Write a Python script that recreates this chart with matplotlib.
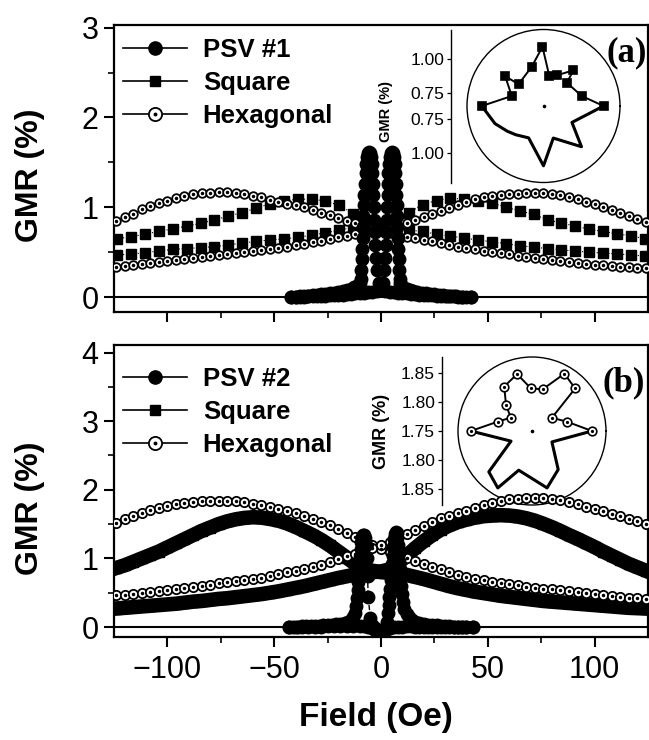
import numpy as np
import matplotlib
matplotlib.use('Agg')
import matplotlib.pyplot as plt
from matplotlib.lines import Line2D
from matplotlib.legend_handler import HandlerTuple

plt.rcParams['font.family'] = ['Liberation Sans', 'DejaVu Sans']

# ---------------- data ----------------
# field grid of the hexagonal / (b) square sweeps (Oe)
field_4 = [-124, -120, -116, -112, -108, -104, -100, -96, -92, -88, -84, -80, -76, -72, -68, -64,
           -60, -56, -52, -48, -44, -40, -36, -32, -28, -24, -20, -16, -12, -8, -4, 0,
           4, 8, 12, 16, 20, 24, 28, 32, 36, 40, 44, 48, 52, 56, 60, 64,
           68, 72, 76, 80, 84, 88, 92, 96, 100, 104, 108, 112, 116, 120, 124]
# field grid of the (a) square sweeps
field_sq = [-123.5, -117, -110.5, -104, -97.5, -91, -84.5, -78, -71.5, -65, -58.5, -52, -45.5,
            -39, -32.5, -26, -19.5, -13, -6.5, 0, 6.5, 13, 19.5, 26, 32.5, 39,
            45.5, 52, 58.5, 65, 71.5, 78, 84.5, 91, 97.5, 104, 110.5, 117, 123.5]

# panel (a)
hex_a_down = [0.85, 0.89, 0.93, 0.975, 1.01, 1.045, 1.075, 1.10, 1.125, 1.142, 1.155, 1.163, 1.167, 1.166, 1.16, 1.147,
              1.13, 1.11, 1.085, 1.06, 1.04, 1.02, 1.0, 0.97, 0.94, 0.91, 0.88, 0.85, 0.82, 0.79, 0.76, 0.735,
              0.71, 0.69, 0.67, 0.655, 0.64, 0.62, 0.60, 0.58, 0.56, 0.545, 0.53, 0.515, 0.50, 0.49, 0.475, 0.46,
              0.45, 0.44, 0.425, 0.415, 0.40, 0.39, 0.38, 0.37, 0.36, 0.355, 0.345, 0.335, 0.33, 0.325, 0.32]
hex_a_up = [0.335, 0.345, 0.355, 0.37, 0.38, 0.39, 0.405, 0.415, 0.425, 0.435, 0.445, 0.455, 0.465, 0.475, 0.49, 0.50,
            0.51, 0.525, 0.535, 0.545, 0.56, 0.58, 0.595, 0.61, 0.625, 0.645, 0.665, 0.685, 0.705, 0.72, 0.73, 0.74,
            0.76, 0.79, 0.82, 0.855, 0.89, 0.92, 0.955, 0.99, 1.02, 1.055, 1.09, 1.11, 1.125, 1.137, 1.147, 1.153,
            1.156, 1.157, 1.155, 1.147, 1.133, 1.115, 1.09, 1.063, 1.035, 1.005, 0.97, 0.94, 0.905, 0.87, 0.835]
sq_a_down = [0.65, 0.67, 0.70, 0.73, 0.76, 0.79, 0.82, 0.86, 0.90, 0.94, 0.99, 1.04, 1.07,
             1.09, 1.09, 1.07, 1.02, 0.93, 0.84, 0.79, 0.76, 0.745, 0.73, 0.70, 0.68, 0.655,
             0.635, 0.615, 0.595, 0.57, 0.555, 0.54, 0.525, 0.51, 0.50, 0.49, 0.48, 0.468, 0.457]
sq_a_up = [0.468, 0.478, 0.494, 0.513, 0.53, 0.54, 0.55, 0.56, 0.58, 0.60, 0.62, 0.635, 0.647,
           0.665, 0.688, 0.715, 0.745, 0.775, 0.79, 0.80, 0.85, 0.94, 1.03, 1.075, 1.10, 1.09,
           1.07, 1.05, 1.00, 0.96, 0.92, 0.86, 0.825, 0.79, 0.755, 0.73, 0.705, 0.68, 0.65]
psv1_field_down = [-42, -40, -38, -36, -34, -32, -30, -28, -26, -24, -22, -20, -18, -16, -14, -12.5, -11, -10,
                   -9.5, -9.2, -9, -8.8, -8.6, -8.4, -8.2, -8, -7.8, -7.5, -7.2, -7, -6.5, -6, -5.5, -5,
                   -4.5, -4.2, -4, -3.8, -3.6, -3.4, -3.2, -3, -2.7, -2.3, -2, -1, 0, 1, 2, 4, 6, 8,
                   10, 12, 14, 16, 18, 20, 22, 24, 26, 28, 30, 32, 34, 36, 38, 40, 42]
psv1_down = [0.0, 0.005, 0.008, 0.012, 0.016, 0.02, 0.025, 0.03, 0.035, 0.04, 0.047, 0.055, 0.065, 0.075, 0.09, 0.11, 0.13, 0.16,
             0.2, 0.3, 0.42, 0.54, 0.66, 0.78, 0.9, 1.02, 1.14, 1.26, 1.38, 1.48, 1.56, 1.6, 1.61, 1.6,
             1.56, 1.48, 1.38, 1.26, 1.14, 1.0, 0.86, 0.72, 0.58, 0.44, 0.3, 0.16, 0.1, 0.08, 0.07, 0.06, 0.055, 0.05,
             0.045, 0.04, 0.035, 0.03, 0.027, 0.024, 0.021, 0.018, 0.015, 0.012, 0.01, 0.008, 0.006, 0.004, 0.002, 0.0, 0.0]
psv1_field_up = [-42, -40, -38, -36, -34, -32, -30, -28, -26, -24, -22, -20, -18, -16, -14, -12, -10, -8,
                 -6, -4, -2, -1, 0, 1, 1.5, 1.8, 2.2, 2.5, 2.7, 2.9, 3.1, 3.3, 3.5, 3.7,
                 4, 4.5, 5, 5.5, 6, 6.5, 6.7, 6.9, 7.1, 7.3, 7.5, 7.7, 7.9, 8.1, 8.3, 8.5, 8.7, 9,
                 9.5, 10.5, 12, 13.5, 15, 17, 19, 21, 23, 25, 27, 29, 31, 33, 35, 38, 42]
psv1_up = [0.0, 0.0, 0.002, 0.004, 0.006, 0.008, 0.01, 0.012, 0.015, 0.018, 0.021, 0.024, 0.027, 0.03, 0.035, 0.04, 0.045, 0.05,
           0.055, 0.06, 0.07, 0.08, 0.1, 0.16, 0.3, 0.44, 0.58, 0.72, 0.86, 1.0, 1.14, 1.26, 1.38, 1.48,
           1.56, 1.6, 1.61, 1.6, 1.56, 1.48, 1.38, 1.26, 1.14, 1.02, 0.9, 0.78, 0.66, 0.54, 0.42, 0.3, 0.2, 0.16,
           0.13, 0.11, 0.09, 0.075, 0.065, 0.055, 0.047, 0.04, 0.035, 0.03, 0.025, 0.02, 0.016, 0.012, 0.008, 0.005, 0.0]

# panel (b)
hex_b_down = [1.52, 1.575, 1.62, 1.665, 1.70, 1.735, 1.765, 1.79, 1.805, 1.82, 1.83, 1.838, 1.84, 1.838, 1.832, 1.82,
              1.80, 1.778, 1.75, 1.72, 1.69, 1.655, 1.62, 1.58, 1.535, 1.485, 1.43, 1.37, 1.31, 1.25, 1.19, 1.14,
              1.10, 1.06, 1.01, 0.965, 0.92, 0.88, 0.84, 0.80, 0.765, 0.735, 0.705, 0.68, 0.66, 0.645, 0.63, 0.61,
              0.59, 0.575, 0.56, 0.55, 0.535, 0.52, 0.505, 0.49, 0.475, 0.465, 0.45, 0.44, 0.43, 0.42, 0.41]
hex_b_up = [0.46, 0.47, 0.48, 0.49, 0.505, 0.52, 0.535, 0.55, 0.565, 0.585, 0.60, 0.62, 0.64, 0.655, 0.67, 0.685,
            0.70, 0.72, 0.745, 0.77, 0.795, 0.82, 0.845, 0.875, 0.91, 0.95, 0.99, 1.03, 1.07, 1.11, 1.15, 1.19,
            1.24, 1.295, 1.355, 1.41, 1.47, 1.53, 1.585, 1.625, 1.66, 1.69, 1.735, 1.775, 1.81, 1.84, 1.86, 1.872,
            1.877, 1.878, 1.877, 1.87, 1.85, 1.82, 1.79, 1.755, 1.72, 1.69, 1.65, 1.615, 1.58, 1.54, 1.50]
sq_b_down = [0.86, 0.90, 0.95, 1.00, 1.05, 1.10, 1.16, 1.22, 1.28, 1.34, 1.40, 1.45, 1.50, 1.54, 1.57, 1.59,
             1.60, 1.595, 1.575, 1.55, 1.51, 1.46, 1.40, 1.34, 1.27, 1.19, 1.10, 1.01, 0.92, 0.85, 0.82, 0.80,
             0.79, 0.78, 0.76, 0.73, 0.70, 0.665, 0.63, 0.595, 0.565, 0.54, 0.515, 0.495, 0.475, 0.455, 0.44, 0.425,
             0.41, 0.395, 0.38, 0.37, 0.36, 0.35, 0.34, 0.33, 0.32, 0.31, 0.30, 0.29, 0.28, 0.275, 0.27]
sq_b_up = [0.27, 0.28, 0.29, 0.30, 0.31, 0.32, 0.33, 0.34, 0.355, 0.37, 0.38, 0.395, 0.41, 0.42, 0.435, 0.45,
           0.465, 0.48, 0.50, 0.52, 0.545, 0.57, 0.595, 0.625, 0.655, 0.685, 0.715, 0.74, 0.765, 0.78, 0.80, 0.81,
           0.84, 0.93, 1.04, 1.15, 1.25, 1.34, 1.42, 1.48, 1.53, 1.565, 1.595, 1.615, 1.625, 1.63, 1.625, 1.61,
           1.585, 1.55, 1.505, 1.455, 1.40, 1.34, 1.285, 1.225, 1.165, 1.10, 1.04, 0.98, 0.92, 0.87, 0.82]
psv2_field_down = [-43, -41, -39, -37, -35, -33, -31, -29, -27, -25, -23, -21, -19, -17, -15.5, -14, -13,
                   -12.2, -11.8, -11.4, -11, -10.7, -10.4, -10.1, -9.8, -9.5, -9.2, -8.8, -8.3, -7.8, -7.3, -6.9,
                   -6.6, -6.3, -6, -5, -4, -3, -2, -1, 0, 1, 2, 3, 4, 6, 8, 10, 12, 14, 16, 18, 20,
                   22, 24, 26, 28, 30, 32, 34, 36, 38, 40, 43]
psv2_down = [0.0, 0.003, 0.006, 0.009, 0.012, 0.015, 0.018, 0.021, 0.025, 0.03, 0.035, 0.04, 0.05, 0.06, 0.075, 0.1, 0.14,
             0.2, 0.3, 0.42, 0.54, 0.66, 0.78, 0.9, 1.02, 1.14, 1.24, 1.31, 1.34, 1.34, 1.3, 1.2,
             1.0, 0.75, 0.44, 0.13, 0.03, -0.02, -0.05, -0.07, -0.08, -0.07, -0.05, -0.03, -0.015, 0.0, 0.005, 0.008, 0.01, 0.01, 0.008, 0.006, 0.005,
             0.004, 0.003, 0.002, 0.001, 0.0, 0.0, 0.0, 0.0, 0.0, 0.0, 0.0]
psv2_field_up = [-43, -40, -37, -34, -31, -28, -25, -22, -19, -16, -13, -10, -8, -6, -4, -3, -2, -1, 0, 1, 2,
                 2.5, 3, 3.3, 3.6, 3.9, 4.2, 4.5, 4.8, 5.1, 5.4, 5.8, 6.2, 6.6, 7, 7.3, 7.6, 7.9, 8.2, 8.5,
                 8.8, 9.1, 9.4, 9.8, 10.3, 11, 12, 13, 14.5, 16, 18, 20, 22, 24, 26, 28, 30, 32, 34, 36, 38, 40, 43]
psv2_up = [0.0, 0.0, 0.002, 0.004, 0.006, 0.008, 0.01, 0.012, 0.014, 0.016, 0.018, 0.015, 0.01, 0.0, -0.02, -0.04, -0.06, -0.075, -0.085, -0.075, -0.04,
           0.0, 0.08, 0.2, 0.32, 0.44, 0.56, 0.68, 0.8, 0.92, 1.04, 1.16, 1.28, 1.36, 1.39, 1.37, 1.3, 1.2, 1.08, 0.96,
           0.84, 0.72, 0.6, 0.48, 0.36, 0.26, 0.19, 0.14, 0.105, 0.08, 0.06, 0.047, 0.037, 0.03, 0.024, 0.019, 0.015, 0.011, 0.008, 0.005, 0.003, 0.001, 0.0]

# polar insets: angle (deg) and GMR (%)
ins_a_theta_mk = [180, 162.5, 142, 139, 106.6, 91, 79, 66.6, 50, 45, 14.6, 0]
ins_a_r_mk = [1.104, 0.896, 1.009, 0.895, 0.953, 1.086, 0.876, 0.897, 0.994, 0.894, 0.942, 1.092]
ins_a_theta_ln = [180, 200, 215, 226, 245, 270, 287, 313, 330, 360]
ins_a_r_ln = [1.104, 1.03, 0.975, 0.945, 0.91, 1.09, 0.898, 1.06, 0.893, 1.092]
ins_a_rlim = (0.653, 1.212)
ins_a_ticks = [0.75, 1.00]

ins_b_theta_mk = [180, 164.8, 147.7, 135, 122, 104.7, 91.3, 75.6, 60.5, 44.6, 33.6, 15, 0]
ins_b_r_mk = [1.855, 1.811, 1.793, 1.813, 1.840, 1.851, 1.823, 1.824, 1.863, 1.854, 1.791, 1.812, 1.853]
ins_b_theta_ln = [180, 205.8, 223.4, 239, 251.3, 284.8, 304.2, 331.2, 360]
ins_b_r_ln = [1.855, 1.790, 1.852, 1.864, 1.821, 1.851, 1.830, 1.789, 1.853]
ins_b_rlim = (1.75, 1.877)
ins_b_ticks = [1.75, 1.80, 1.85]

# ---------------- figure ----------------
W, H = 649, 740
fig = plt.figure(figsize=(W / 100, H / 100), dpi=100)


def px_box(l, t, r, b):
    return [l / W, 1 - b / H, (r - l) / W, (b - t) / H]


ax_a = fig.add_axes(px_box(114, 25, 648, 312))
ax_b = fig.add_axes(px_box(114, 345, 648, 637))


def style_main(ax, ylim, major, minor, show_x):
    ax.set_xlim(-125, 125)
    ax.set_ylim(*ylim)
    ax.set_yticks(major)
    ax.set_yticks(minor, minor=True)
    ax.set_xticks([-100, -50, 0, 50, 100])
    ax.set_xticks([-75, -25, 25, 75], minor=True)
    ax.tick_params(which='major', direction='out', length=7, width=1.5, labelsize=22, pad=4)
    ax.tick_params(which='minor', direction='out', length=4, width=1.2)
    ax.tick_params(axis='x', pad=6)
    if not show_x:
        ax.tick_params(axis='x', labelbottom=False)
    for s in ax.spines.values():
        s.set_linewidth(1.6)
    ax.axhline(0, color='k', lw=1.5, zorder=1)
    ax.patch.set_visible(False)
    ax.set_zorder(3)


style_main(ax_a, (-0.167, 3.03), [0, 1, 2, 3], [0.5, 1.5, 2.5], False)
style_main(ax_b, (-0.145, 4.11), [0, 1, 2, 3, 4], [0.5, 1.5, 2.5, 3.5], True)


def plot_hex(ax, x, y, ms):
    ax.plot(x, y, '-', color='k', lw=0.7, marker='o', ms=ms, mfc='white', mec='k', mew=1.3, zorder=3)
    ax.plot(x, y, 'o', ms=1.5, color='k', zorder=4)


# panel (a)
ax_a.plot(field_sq, sq_a_down, ':', color='k', lw=0.8, marker='s', ms=6.6, zorder=2)
ax_a.plot(field_sq, sq_a_up, ':', color='k', lw=0.8, marker='s', ms=6.6, zorder=2)
plot_hex(ax_a, field_4, hex_a_down, 6.2)
plot_hex(ax_a, field_4, hex_a_up, 6.2)
ax_a.plot(psv1_field_down, psv1_down, '-', color='k', lw=1.0, marker='o', ms=9, zorder=5)
ax_a.plot(psv1_field_up, psv1_up, '-', color='k', lw=1.0, marker='o', ms=9, zorder=5)

# panel (b)
ax_b.plot(field_4, sq_b_down, '-', color='k', lw=10.5, marker='s', ms=7.5, zorder=2)
ax_b.plot(field_4, sq_b_up, '-', color='k', lw=10.5, marker='s', ms=7.5, zorder=2)
plot_hex(ax_b, field_4, hex_b_down, 6.7)
plot_hex(ax_b, field_4, hex_b_up, 6.7)
ax_b.plot(psv2_field_down, psv2_down, '--', color='k', lw=1.0, marker='o', ms=9, zorder=5)
ax_b.plot(psv2_field_up, psv2_up, '--', color='k', lw=1.0, marker='o', ms=9, zorder=5)

for ax, yc in ((ax_a, 0.477), (ax_b, 0.44)):
    ax.set_ylabel('GMR (%)', fontsize=23, fontweight='bold')
    ax.yaxis.set_label_coords(-0.129, yc)
ax_b.text(0.49, -0.277, 'Field (Oe)', transform=ax_b.transAxes, ha='center', va='center',
          fontsize=24, fontweight='bold')


def add_legend(ax, first, anchor):
    h_psv = Line2D([], [], color='k', lw=1.2, marker='o', ms=9.5)
    h_sq = Line2D([], [], color='k', lw=1.2, marker='s', ms=7.5)
    h_hex = (Line2D([], [], color='k', lw=1.2, marker='o', ms=9.5, mfc='white', mew=1.3),
             Line2D([], [], ls='none', marker='o', ms=1.8, color='k'))
    ax.legend([h_psv, h_sq, h_hex], [first, 'Square', 'Hexagonal'],
              handler_map={tuple: HandlerTuple(ndivide=1, pad=0)},
              loc='upper left', bbox_to_anchor=anchor, frameon=False,
              prop=dict(weight='bold', size=18.5), handlelength=2.5, handletextpad=0.6,
              labelspacing=0.36, borderaxespad=0, borderpad=0)


add_legend(ax_a, 'PSV #1', (0.017, 0.956))
add_legend(ax_b, 'PSV #2', (0.017, 0.926))

fig.text(606 / W, 1 - 53 / H, '(a)', family='Liberation Serif', fontweight='bold', fontsize=25, va='center')
fig.text(603 / W, 1 - 383 / H, '(b)', family='Liberation Serif', fontweight='bold', fontsize=25, va='center')


def polar_inset(cx, cy, rad, rlim, th_mk, r_mk, th_ln, r_ln, marker, mfc, ms):
    pa = fig.add_axes(px_box(cx - rad, cy - rad, cx + rad, cy + rad), projection='polar')
    pa.set_zorder(1)
    pa.patch.set_visible(False)
    pa.set_ylim(*rlim)
    pa.set_yticks([])
    pa.set_xticks(np.deg2rad([0, 30, 60, 90, 120, 150, 180, 210, 240, 270, 300, 330]))
    pa.set_xticklabels([])
    pa.grid(False)
    pa.tick_params(axis='x', direction='in', length=3, width=0.8)
    pa.spines['polar'].set_linewidth(1.0)
    pa.plot(np.deg2rad(th_ln), r_ln, '-', color='k', lw=2.2, clip_on=False)
    pa.plot(np.deg2rad(th_mk), r_mk, '-', color='k', lw=1.4, marker=marker, ms=ms,
            mfc=mfc, mec='k', mew=1.2, clip_on=False)
    if mfc == 'white':
        pa.plot(np.deg2rad(th_mk), r_mk, 'o', ms=1.3, color='k', clip_on=False)
    pa.plot([0], [rlim[0]], 'o', ms=1.6, color='k', clip_on=False)
    return pa


def radial_scale(x, cy, rad, rlim, ticks, lab_x, lab_y, lab_size):
    ra = fig.add_axes(px_box(x, cy - rad, x + 1, cy + rad))
    span = rlim[1] - rlim[0]
    ra.set_ylim(-span, span)
    ra.set_xlim(0, 1)
    pos, labs = [], []
    for t in ticks:
        d = t - rlim[0]
        if d > 1e-6:
            pos += [d, -d]
            labs += ['%.2f' % t, '%.2f' % t]
        else:
            pos.append(0)
            labs.append('%.2f' % t)
    ra.set_yticks(pos)
    ra.set_yticklabels(labs)
    ra.set_xticks([])
    for k in ('top', 'right', 'bottom'):
        ra.spines[k].set_visible(False)
    ra.spines['left'].set_linewidth(1.0)
    ra.patch.set_visible(False)
    ra.tick_params(axis='y', direction='out', length=3, width=0.9, labelsize=12.5, pad=2)
    fig.text(lab_x / W, 1 - lab_y / H, 'GMR (%)', rotation=90, fontsize=lab_size,
             fontweight='bold', ha='center', va='center')


polar_inset(543.5, 106, 76.5, ins_a_rlim, ins_a_theta_mk, ins_a_r_mk, ins_a_theta_ln, ins_a_r_ln, 's', 'k', 6.0)
radial_scale(451, 106, 76.5, ins_a_rlim, ins_a_ticks, 386, 111, 10.5)
polar_inset(532, 431, 74, ins_b_rlim, ins_b_theta_mk, ins_b_r_mk, ins_b_theta_ln, ins_b_r_ln, 'o', 'white', 6.2)
radial_scale(442, 431, 74, ins_b_rlim, ins_b_ticks, 382, 431, 13)

fig.savefig('out.png', dpi=100, facecolor='white')
